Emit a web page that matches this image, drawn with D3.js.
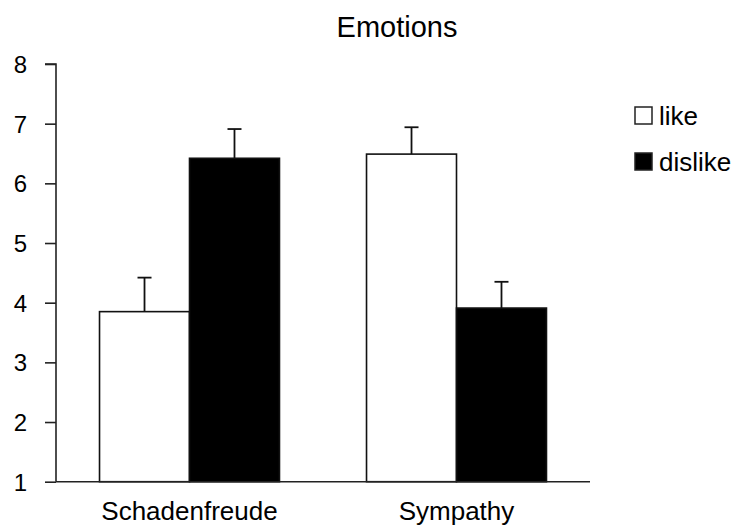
<!DOCTYPE html>
<html>
<head>
<meta charset="utf-8">
<script src="https://cdn.jsdelivr.net/npm/d3@7"></script>
<style>
  body { margin: 0; background: #fff; }
  text { font-family: "Liberation Sans", Arial, sans-serif; fill: #000; }
</style>
</head>
<body>
<svg width="736" height="529"></svg>
<script>
var categories = ["Schadenfreude", "Sympathy"];
var groups = ["like", "dislike"];
var likeValues = [3.85, 6.49];
var dislikeValues = [6.42, 3.91];
var likeErrors = [0.57, 0.45];
var dislikeErrors = [0.49, 0.44];
var yTicks = [1, 2, 3, 4, 5, 6, 7, 8];

var fills = { like: "#fff", dislike: "#000" };

var svg = d3.select("svg"),
    margin = {top: 64, left: 56},
    width = 534,
    height = 417.7,
    g = svg.append("g").attr("transform", "translate(" + margin.left + "," + margin.top + ")");

var data = categories.map(function(c, i) {
  return {
    category: c,
    values: [
      {key: "like", value: likeValues[i], err: likeErrors[i]},
      {key: "dislike", value: dislikeValues[i], err: dislikeErrors[i]}
    ]
  };
});

var x0 = d3.scaleBand().domain(categories).range([0, width])
    .paddingInner(0.326).paddingOuter(0.163);
var x1 = d3.scaleBand().domain(groups).range([0, x0.bandwidth()]);
var y = d3.scaleLinear().domain([1, 8]).range([height, 0]);

var cat = g.selectAll(".cat")
  .data(data)
  .enter().append("g")
  .attr("class", "cat")
  .attr("transform", function(d) { return "translate(" + x0(d.category) + ",0)"; });

// error bars, only the upper half
cat.selectAll(".err")
  .data(function(d) { return d.values; })
  .enter().append("g")
  .attr("class", "err")
  .each(function(d) {
    var cx = x1(d.key) + x1.bandwidth() / 2;
    var e = d3.select(this);
    e.append("line")
      .attr("x1", cx).attr("x2", cx)
      .attr("y1", y(d.value)).attr("y2", y(d.value + d.err))
      .attr("stroke", "#111").attr("stroke-width", 1.8);
    e.append("line")
      .attr("x1", cx - 7).attr("x2", cx + 7)
      .attr("y1", y(d.value + d.err)).attr("y2", y(d.value + d.err))
      .attr("stroke", "#111").attr("stroke-width", 1.8);
  });

cat.selectAll("rect")
  .data(function(d) { return d.values; })
  .enter().append("rect")
  .attr("x", function(d) { return x1(d.key); })
  .attr("width", x1.bandwidth())
  .attr("y", function(d) { return y(d.value); })
  .attr("height", function(d) { return height - y(d.value); })
  .attr("fill", function(d) { return fills[d.key]; })
  .attr("stroke", "#111")
  .attr("stroke-width", 1.6);

// axes
var yAxis = g.append("g")
  .call(d3.axisLeft(y).tickValues(yTicks).tickFormat(d3.format("d")).tickSize(11).tickPadding(18));
yAxis.select(".domain").attr("d", "M0," + height + "V0H-11");
yAxis.selectAll("line, path").attr("stroke", "#222").attr("stroke-width", 1.6);
yAxis.selectAll("text").style("font-size", "24px").attr("dy", "0.35em");

var xAxis = g.append("g")
  .attr("transform", "translate(0," + height + ")")
  .call(d3.axisBottom(x0).tickSize(0).tickPadding(20));
xAxis.select(".domain").attr("d", "M0,0H" + width);
xAxis.selectAll("path").attr("stroke", "#222").attr("stroke-width", 1.6);
xAxis.selectAll("text").style("font-size", "26px");

// title
svg.append("text")
  .attr("x", 397)
  .attr("y", 37)
  .attr("text-anchor", "middle")
  .style("font-size", "29px")
  .text("Emotions");

// legend
var legend = svg.selectAll(".legend")
  .data(groups)
  .enter().append("g")
  .attr("class", "legend")
  .attr("transform", function(d, i) { return "translate(635," + (107 + i * 46) + ")"; });

legend.append("rect")
  .attr("width", 17).attr("height", 17)
  .attr("fill", function(d) { return fills[d]; })
  .attr("stroke", "#222").attr("stroke-width", 1.5);

legend.append("text")
  .attr("x", 24)
  .attr("y", 8.5)
  .attr("dy", "0.36em")
  .style("font-size", "26px")
  .text(function(d) { return d; });
</script>
</body>
</html>
